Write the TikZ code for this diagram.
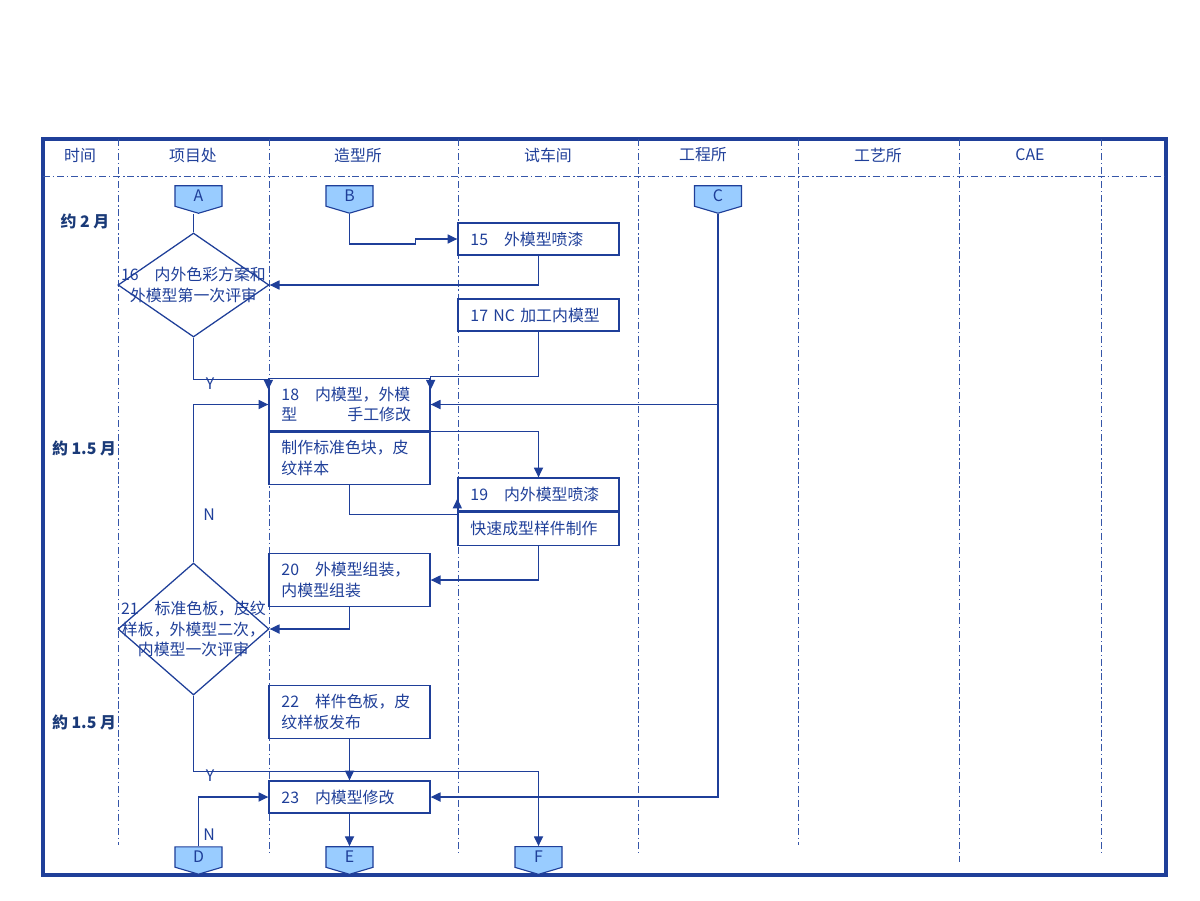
\documentclass[tikz,border=0pt]{standalone}
\usepackage{fontspec}
\setmainfont{Noto Sans CJK SC}
\usepackage{xcolor}
\usepackage{tikz}
\usetikzlibrary{positioning,%
  arrows.meta,%
  shapes.geometric,%
  shapes.symbols,%
  calc}

\definecolor{lineblue}{HTML}{1F3F99}
\definecolor{laneblue}{HTML}{3555A8}
\definecolor{pagefill}{HTML}{99CCFF}
\definecolor{timeblue}{HTML}{1A3A78}

\tikzset{
  txt/.style={font=\fontsize{11.3}{14.8}\selectfont, text=lineblue},
  task/.style={txt, draw=lineblue, line width=0.9pt, fill=white,
    minimum width=4.025cm, minimum height=0.8cm, inner sep=0pt,
    text width=3.4cm, align=left},
  tall/.style={task, minimum height=1.31cm},
  decide/.style={diamond, draw=lineblue, line width=0.9pt, fill=white,
    inner sep=0pt, minimum width=3.775cm},
  offpage/.style={txt, signal, signal to=south, signal pointer angle=147,
    draw=lineblue, line width=0.8pt, fill=pagefill, minimum width=1.175cm,
    minimum height=0.55cm, inner sep=0pt},
  flow/.style={draw=lineblue, line width=0.9pt,
    -{Triangle[length=7pt,width=6.5pt]}},
  lane/.style={draw=laneblue, line width=0.6pt,
    dash pattern=on 5pt off 2pt on 1pt off 2pt},
  yn/.style={txt, inner sep=0pt},
  period/.style={font=\fontsize{11.3}{14}\selectfont\bfseries, text=timeblue}
}

\begin{document}
\begin{tikzpicture}[x=0.025cm,y=-0.025cm]
  % Rahmen
  \useasboundingbox (0,0) rectangle (1200,900);
  \draw[lineblue, line width=2.8pt] (43,139) rectangle (1166,875);
  \draw[lane] (43,176) -- (1166,176);
  \foreach \x/\yend in {118/845,269/855,458/855,638/855,798/845,959/862,1101/855}
    \draw[lane] (\x,139) -- (\x,\yend);

  % Kopfzeile
  \node[txt] (h0) at (80,155) {时间};
  \node[txt] (h1) at (193,155) {项目处};
  \node[txt] (h2) at (358,155) {造型所};
  \node[txt] (h3) at (548,155) {试车间};
  \node[txt] (h4) at (703,155) {工程所};
  \node[txt] (h5) at (878,155) {工艺所};
  \node[txt] (h6) at (1030,155) {CAE};

  % Zeitraum
  \node[period] (t1) at (85,221) {约 2 月};
  \node[period] (t2) at (84,448) {約 1.5 月};
  \node[period] (t3) at (84,722) {約 1.5 月};

  % Verbinder
  \node[offpage] (A) at (198.5,196) {A};
  \node[offpage] (B) at (349.5,196) {B};
  \node[offpage] (C) at (718,196) {C};
  \node[offpage] (D) at (198.5,857) {D};
  \node[offpage] (E) at (349.5,857) {E};
  \node[offpage] (F) at (538.5,857) {F};

  % Schritte
  \node[task] (n15) at (538.5,239) {15\quad 外模型喷漆};
  \node[decide, minimum height=2.6cm] (d16) at (193.5,285) {};
  \node[txt, align=center] (d16t) at (d16) {16\quad 内外色彩方案和\\外模型第一次评审};
  \node[task] (n17) at (538.5,315) {17 NC 加工内模型};
  \node[tall] (n18) at (349.5,404.5) {18\quad 内模型，外模\\型\hspace{1.25cm}手工修改};
  \node[tall, below=0pt of n18] (n18b) {制作标准色块，皮\\纹样本};
  \node[task, minimum height=0.825cm] (n19) at (538.5,494.5) {19\quad 内外模型喷漆};
  \node[task, minimum height=0.825cm, below=0pt of n19] (n19b) {快速成型样件制作};
  \node[tall] (n20) at (349.5,580) {20\quad 外模型组装，\\内模型组装};
  \node[decide, minimum height=3.3cm] (d21) at (193.5,629) {};
  \node[txt, align=center] (d21t) at (d21) {21\quad 标准色板，皮纹\\样板，外模型二次，\\内模型一次评审};
  \node[tall] (n22) at (349.5,712) {22\quad 样件色板，皮\\纹样板发布};
  \node[task] (n23) at (349.5,797) {23\quad 内模型修改};

  % Beschriftung Y/N
  \node[yn] (y1) at (210,384) {Y};
  \node[yn] (no1) at (209,515) {N};
  \node[yn] (y2) at (210,776) {Y};
  \node[yn] (no2) at (209,835) {N};

  % Pfeile
  \draw[lineblue, line width=0.9pt] (d16.north) -- (d16.north |- A.south);
  \draw[flow] (B.south) |- ($(n15.west)+(-42,5)$) |- (n15.west);
  \draw[flow] (n15.south) |- (d16.east);
  \draw[flow] (n17.south) -- ++(0,45) -| ($(n18.north east)+(0,12)$);
  \draw[flow] (d16.south) |- ($(n18.north west)+(0,2)$) -- ($(n18.north west)+(0,12)$);
  \draw[flow] (C.south) |- (n23.east);
  \draw[flow] (C.south |- n18.east) -- (n18.east);
  \draw[flow] (n18.south east) -| (n19.north);
  \draw[flow] (n18b.south) |- ($(n19b.north west)+(0,3)$) -- ($(n19b.north west)+(0,-13)$);
  \draw[flow] (n19b.south) |- (n20.east);
  \draw[flow] (n20.south) |- (d21.east);
  \draw[flow] (d21.north) |- (n18.west);
  \draw[flow] (d21.south) -- ++(0,76) -| (F.north);
  \draw[flow] (n22.south) -- (n23.north);
  \draw[flow] (D.north) |- (n23.west);
  \draw[flow] (n23.south) -- (E.north);
\end{tikzpicture}
\end{document}
